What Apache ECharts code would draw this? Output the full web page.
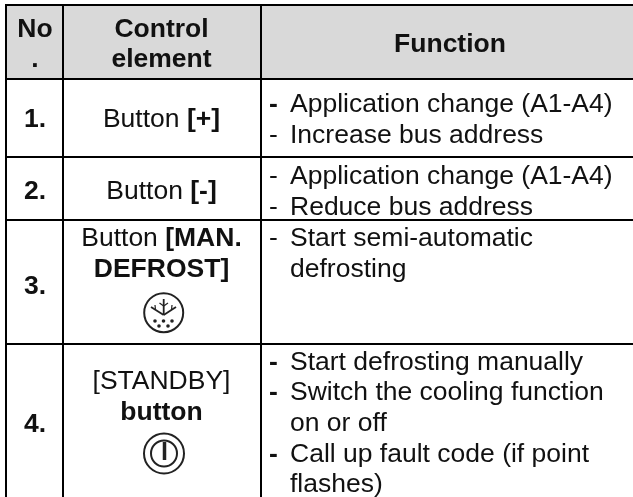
<!DOCTYPE html>
<html><head><meta charset="utf-8">
<style>html,body{margin:0;padding:0;background:#fff}#c{width:633px;height:497px}</style>
<script src="https://cdn.jsdelivr.net/npm/echarts@6/dist/echarts.min.js"></script>
</head><body><div id="c"></div>
<script>
// Table content ("*" marks a bold run)
const headers = [["No", "."], ["Control", "element"], ["Function"]];
const numbers = ["1.", "2.", "3.", "4."];
const controls = [
  [["Button ", "*[+]"]],
  [["Button ", "*[-]"]],
  [["Button ", "*[MAN."], ["*DEFROST]"]],
  [["[STANDBY]"], ["*button"]]
];
const functionLines = [
  [["*-", "Application change (A1-A4)"], ["-", "Increase bus address"]],
  [["-", "Application change (A1-A4)"], ["-", "Reduce bus address"]],
  [["-", "Start semi-automatic"], ["", "defrosting"]],
  [["*-", "Start defrosting manually"], ["*-", "Switch the cooling function"], ["", "on or off"], ["*-", "Call up fault code (if point"], ["", "flashes)"]]
];

// Layout
const colEdges = [6, 63, 261, 633];
const rowEdges = [5, 79, 157, 220, 344, 497];
const colCentres = [35, 161.5, 450];
const numberY = [118, 190, 285, 423];
const controlY = [[118], [190], [237, 268], [380, 411]];
const functionY = [[103, 134], [175, 206], [237, 268], [361, 391, 422, 453, 483]];
const headerY = [[28, 58], [28, 58], [43]];
const dashX = 269, textX = 290, textShift = 2;
const FONT = "'Liberation Sans', Arial, sans-serif", SIZE = 26.5, INK = "#111";

const g = [];
function text(x, y, s, bold, align) {
  g.push({type: "text", x, y: y + textShift, silent: true, style: {
    text: s, x: 0, y: 0, fill: INK, font: (bold ? "bold " : "") + SIZE + "px " + FONT,
    align: align || "center", verticalAlign: "middle"}});
}
function runs(x, y, parts) {
  const t = parts.map(p => p[0] === "*" ? "{b|" + p.slice(1) + "}" : "{r|" + p + "}").join("");
  const base = {fontFamily: FONT, fontSize: SIZE, fill: INK};
  g.push({type: "text", x, y: y + textShift, silent: true, style: {
    text: t, x: 0, y: 0, align: "center", verticalAlign: "middle", fontFamily: FONT, fontSize: SIZE,
    rich: {r: base, b: Object.assign({fontWeight: "bold"}, base)}}});
}
function line(x1, y1, x2, y2, w, c) {
  g.push({type: "line", silent: true, shape: {x1, y1, x2, y2}, style: {stroke: c || "#000", lineWidth: w}});
}
function circle(cx, cy, r, w) {
  g.push({type: "circle", silent: true, shape: {cx, cy, r}, style: {fill: "none", stroke: "#222", lineWidth: w}});
}
function dot(cx, cy) {
  g.push({type: "circle", silent: true, shape: {cx, cy, r: 1.8}, style: {fill: "#222"}});
}

// Header band and rules
g.push({type: "rect", silent: true, shape: {x: colEdges[0], y: rowEdges[0], width: 633 - colEdges[0], height: rowEdges[1] - rowEdges[0]}, style: {fill: "#d9d9d9"}});
rowEdges.slice(0, 5).forEach(y => line(colEdges[0] - 1, y, 633, y, 2));
colEdges.slice(0, 3).forEach(x => line(x, rowEdges[0], x, 497, 2));

// Text
headers.forEach((h, i) => h.forEach((s, j) => text(colCentres[i], headerY[i][j], s, true)));
numbers.forEach((n, i) => text(colCentres[0], numberY[i], n, true));
controls.forEach((rows, i) => rows.forEach((parts, j) => runs(colCentres[1], controlY[i][j], parts)));
functionLines.forEach((rows, i) => rows.forEach((r, j) => {
  const bold = r[0][0] === "*";
  const dash = bold ? r[0].slice(1) : r[0];
  if (dash) text(dashX, functionY[i][j], dash, bold, "left");
  text(textX, functionY[i][j], r[1], false, "left");
}));

// Defrost icon
circle(163.7, 312.7, 19.5, 2);
line(163.7, 299, 163.7, 315, 1.8, "#222");
line(163.7, 315, 151, 307, 1.8, "#222");
line(163.7, 315, 176, 307, 1.8, "#222");
line(159.5, 303, 163.7, 306, 1.2, "#222");
line(168, 303, 163.7, 306, 1.2, "#222");
line(155, 305, 155.5, 310, 1.2, "#222");
line(172, 305, 171.5, 310, 1.2, "#222");
[[155, 321], [163.5, 321], [172, 321], [159, 326], [168, 326]].forEach(p => dot(p[0], p[1]));

// Power icon
circle(164, 453.5, 20, 2);
circle(164, 453.5, 13, 2);
line(164.5, 442, 164.5, 460, 3.5, "#222");

const chart = echarts.init(document.getElementById("c"), null, {renderer: "canvas"});
chart.setOption({animation: false, backgroundColor: "#fff", graphic: {elements: g}});
</script></body></html>
